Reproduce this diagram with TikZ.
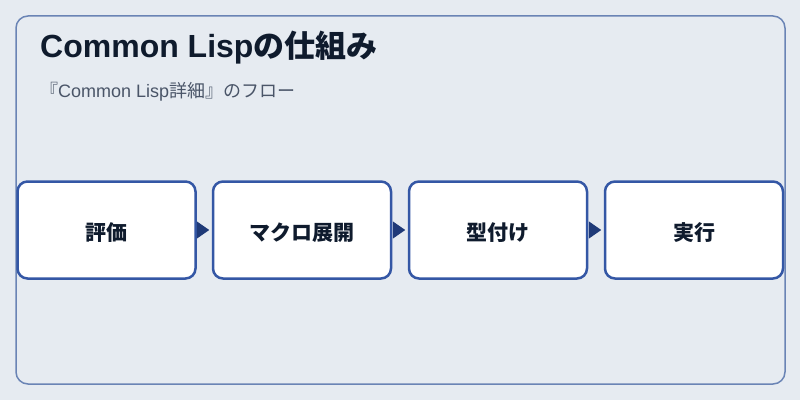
\documentclass[tikz,border=0pt]{standalone}
\usepackage{fontspec}
\setmainfont{Noto Sans CJK JP}
\newfontfamily\latinfont{Liberation Sans}
\usetikzlibrary{arrows.meta}
\definecolor{bgc}{HTML}{E6EBF1}
\definecolor{framec}{HTML}{6A84B5}
\definecolor{boxc}{HTML}{3457A5}
\definecolor{arrc}{HTML}{1F3A78}
\definecolor{titlec}{HTML}{0F1B2D}
\definecolor{subc}{HTML}{4A5568}
\tikzset{
  stepbox/.style={draw=boxc, line width=2.5pt, fill=white, rounded corners=10pt,
    minimum width=178pt, minimum height=97pt, inner sep=0pt,
    text height=20pt, text depth=0pt,
    font=\fontsize{21pt}{24pt}\selectfont\bfseries, text=titlec},
  flowarrow/.style={draw=arrc, line width=1.5pt, shorten >=2.5pt, shorten <=1pt,
    -{Triangle[length=12.5pt,width=17pt]}, arrc}
}
\begin{document}
\begin{tikzpicture}[x=1pt,y=1pt]
\fill[bgc] (0,0) rectangle (800,400);
\useasboundingbox (0,0) rectangle (800,400);
\draw[framec, line width=1.5pt, rounded corners=12pt] (16,16) rectangle (785,384);
\node[anchor=base west, inner sep=0pt, text=titlec, font=\fontsize{31pt}{34pt}\selectfont\bfseries] (title) at (40,342) {{\latinfont\fontsize{32pt}{34pt}\selectfont\bfseries Common Lisp}の仕組み};
\node[anchor=base west, inner sep=0pt, text=subc, font=\fontsize{18pt}{21pt}\selectfont] (sub) at (40,303) {『{\latinfont Common Lisp}詳細』のフロー};
\node[stepbox] (s1) at (106.5,170) {評価};
\node[stepbox] (s2) at (302,170) {マクロ展開};
\node[stepbox] (s3) at (498,170) {型付け};
\node[stepbox] (s4) at (694,170) {実行};
\draw[flowarrow] (s1.east) -- (s2.west);
\draw[flowarrow] (s2.east) -- (s3.west);
\draw[flowarrow] (s3.east) -- (s4.west);
\end{tikzpicture}
\end{document}
